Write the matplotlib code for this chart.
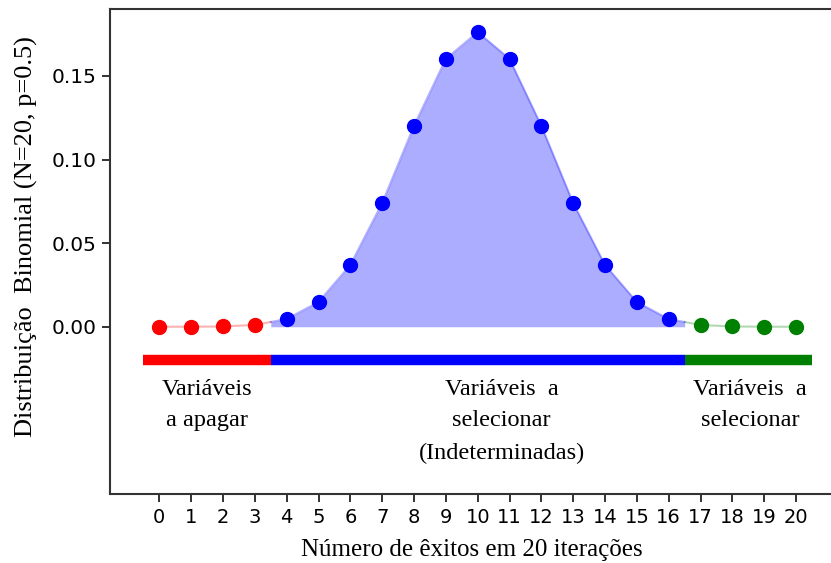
import numpy as np
import matplotlib
matplotlib.use("Agg")
import matplotlib.pyplot as plt

# Data (binomial pmf, N=20, p=0.5)
k = list(range(21))
pmf = [9.5e-7, 1.91e-5, 1.81e-4, 1.087e-3, 4.621e-3, 1.4786e-2, 3.6964e-2,
       7.3929e-2, 1.20134e-1, 1.60179e-1, 1.76197e-1, 1.60179e-1, 1.20134e-1,
       7.3929e-2, 3.6964e-2, 1.4786e-2, 4.621e-3, 1.087e-3, 1.81e-4, 1.91e-5, 9.5e-7]
low_cut = 3.5
high_cut = 16.5
bar_level = -0.02
region_texts = ["Variáveis\na apagar", "Variáveis  a\nselecionar\n(Indeterminadas)", "Variáveis  a\nselecionar"]
region_text_x = [1.5, 10.75, 18.55]
ytick_vals = [0.0, 0.05, 0.10, 0.15]

k = np.array(k, dtype=float)
pmf = np.array(pmf)
serif = ["Liberation Serif", "DejaVu Serif"]

fig = plt.figure(figsize=(8.31, 5.63), dpi=100)
ax = fig.add_axes([110/831, 69/563, 721/831 + 0.002, 485/563])

red_m = k <= 3
blue_m = (k >= 4) & (k <= 16)
green_m = k >= 17

# interpolated boundary values
yl = np.interp(low_cut, k, pmf)
yh = np.interp(high_cut, k, pmf)

# light connecting lines
ax.plot(np.r_[k[red_m], low_cut], np.r_[pmf[red_m], yl], color="red", alpha=0.3, lw=1.5, zorder=2)
ax.plot(np.r_[high_cut, k[green_m]], np.r_[yh, pmf[green_m]], color="green", alpha=0.3, lw=1.5, zorder=2)
xb = np.r_[low_cut, k[blue_m], high_cut]
yb = np.r_[yl, pmf[blue_m], yh]
ax.fill_between(xb, 0, yb, color="blue", alpha=0.32, lw=0, zorder=1)
ax.plot(xb, yb, color="blue", alpha=0.3, lw=1.5, zorder=2)

ax.plot(k[red_m], pmf[red_m], "o", color="red", ms=10, zorder=3)
ax.plot(k[blue_m], pmf[blue_m], "o", color="blue", ms=10, zorder=3)
ax.plot(k[green_m], pmf[green_m], "o", color="green", ms=10, zorder=3)

# region bars
ax.hlines(bar_level, -0.5, low_cut, color="red", lw=7.5, zorder=2)
ax.hlines(bar_level, low_cut, high_cut, color="blue", lw=7.5, zorder=2)
ax.hlines(bar_level, high_cut, 20.5, color="green", lw=7.5, zorder=2)

for txt, xt in zip(region_texts, region_text_x):
    ax.text(xt, -0.031, txt, ha="center", va="top", fontsize=17.5,
            family=serif, linespacing=1.68)

ax.set_xlim(-1.55, 21.15)
ax.set_ylim(-0.1, 0.19)
ax.set_xticks(k)
ax.set_xticklabels([str(int(v)) for v in k])
ax.set_yticks(ytick_vals)
ax.set_yticklabels([f"{v:.2f}" for v in ytick_vals])
ax.tick_params(length=6, width=1.3, color="#222222")
ax.tick_params(axis="x", labelsize=14, pad=4)
ax.tick_params(axis="y", labelsize=14.5)
for s in ax.spines.values():
    s.set_linewidth(1.5)
    s.set_color("#333333")

ax.set_xlabel("Número de êxitos em 20 iterações", fontsize=18, family=serif, labelpad=9)
ax.set_ylabel("Distribuição  Binomial (N=20, p=0.5)", fontsize=19, family=serif)
ax.yaxis.set_label_coords(-0.100, 0.53)

fig.savefig("out.png", dpi=100)
